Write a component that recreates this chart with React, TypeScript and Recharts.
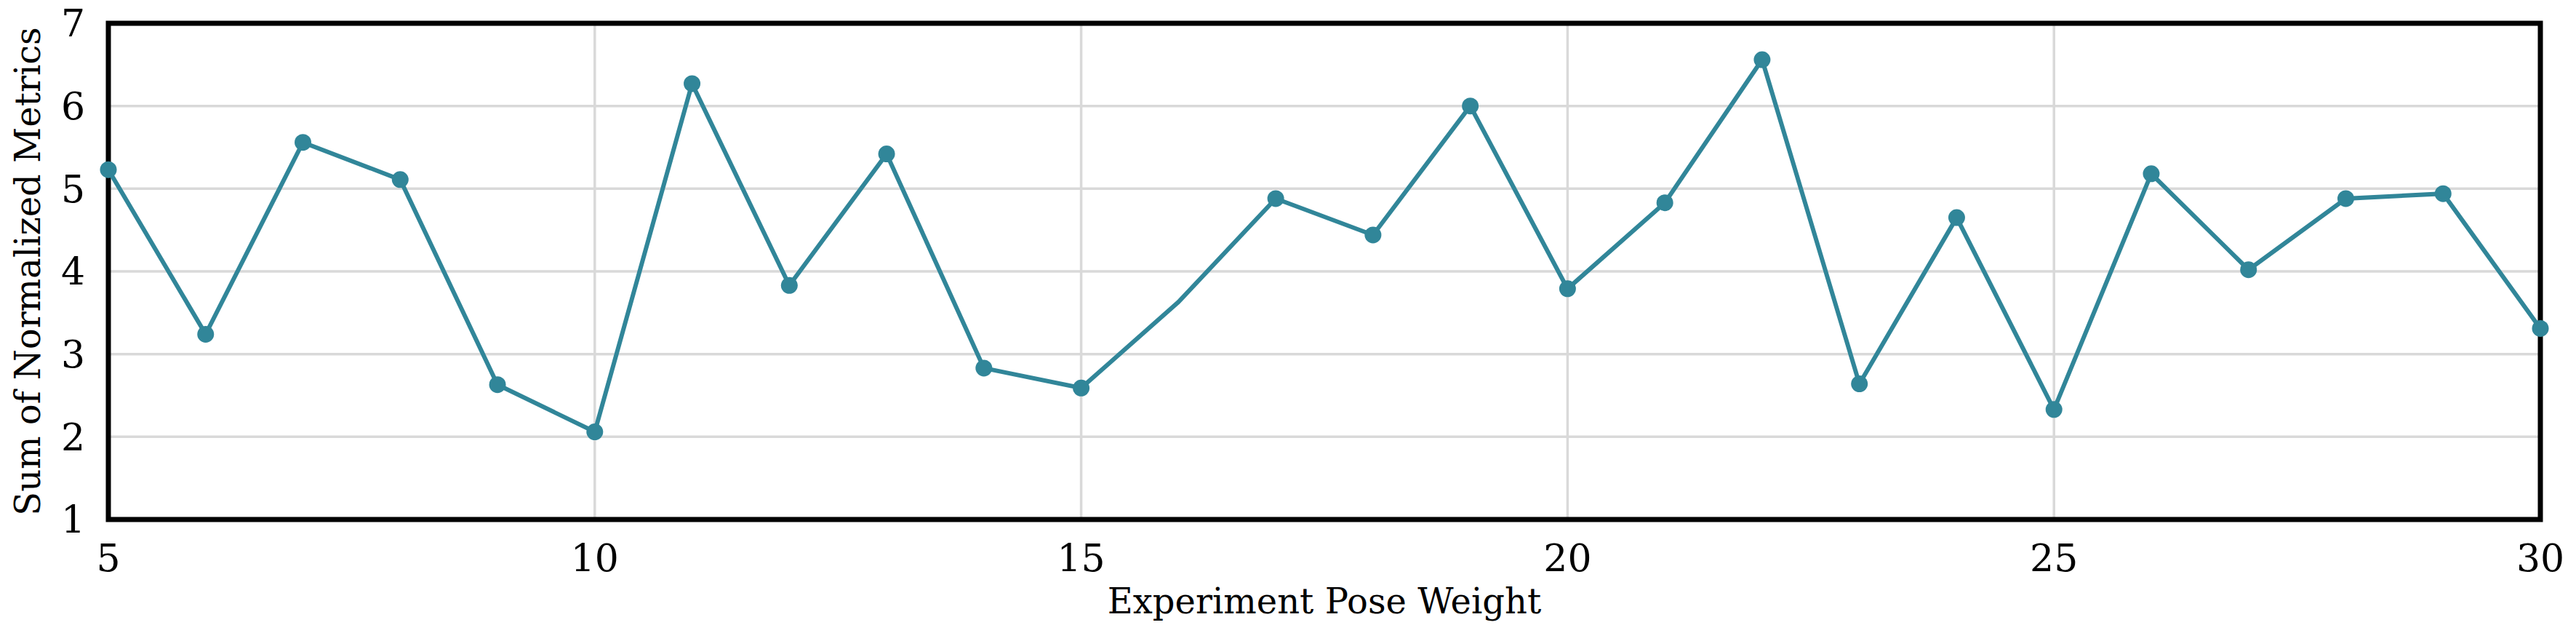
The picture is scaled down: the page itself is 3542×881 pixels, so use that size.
import { LineChart, Line, XAxis, YAxis, CartesianGrid, ReferenceArea } from "recharts";

const poseWeights = [5, 6, 7, 8, 9, 10, 11, 12, 13, 14, 15, 16, 17, 18, 19, 20, 21, 22, 23, 24, 25, 26, 27, 28, 29, 30];
const metricSums = [
  5.23, 3.24, 5.56, 5.11, 2.63, 2.06, 6.27, 3.83, 5.42, 2.83, 2.59, 3.63, 4.88,
  4.44, 6.0, 3.79, 4.83, 6.56, 2.64, 4.65, 2.33, 5.18, 4.02, 4.88, 4.94, 3.31,
];
// the point at 16 has no marker in the source figure
const unmarkedWeights = [16];
const xTicks = [5, 10, 15, 20, 25, 30];
const yTicks = [1, 2, 3, 4, 5, 6, 7];

const data = poseWeights.map((w, i) => ({ weight: w, score: metricSums[i] }));

const TEAL = "#318699";
const FONT = "DejaVu Serif";

const renderDot = (props: any) => {
  const { cx, cy, payload, index } = props;
  if (unmarkedWeights.includes(payload.weight)) return <g key={`dot-${index}`} />;
  return <circle key={`dot-${index}`} cx={cx} cy={cy} r={11.5} fill={TEAL} stroke="none" />;
};

export default function App() {
  return (
    <div style={{ position: "absolute", left: 0, top: 0, background: "#fff" }}>
      <LineChart width={3542} height={881} data={data} margin={{ top: 32, right: 49, bottom: 0, left: 0 }}>
        <CartesianGrid stroke="#d9d9d9" strokeWidth={3.5} />
        <XAxis
          dataKey="weight"
          type="number"
          domain={[5, 30]}
          ticks={xTicks}
          height={167}
          axisLine={false}
          tickLine={false}
          tickMargin={28}
          tick={{ fill: "#000", fontSize: 52, fontFamily: FONT }}
          label={{
            value: "Experiment Pose Weight",
            position: "insideBottom",
            offset: 38,
            style: { fill: "#000", fontSize: 48, fontFamily: FONT },
          }}
        />
        <YAxis
          type="number"
          domain={[1, 7]}
          ticks={yTicks}
          width={149}
          axisLine={false}
          tickLine={false}
          tickMargin={26}
          tick={{ fill: "#000", fontSize: 52, fontFamily: FONT }}
          label={{
            value: "Sum of Normalized Metrics",
            angle: -90,
            position: "insideLeft",
            offset: 38,
            style: { fill: "#000", fontSize: 48, fontFamily: FONT, textAnchor: "middle" },
          }}
        />
        <ReferenceArea x1={5} x2={30} y1={1} y2={7} fill="none" fillOpacity={0} stroke="#000" strokeWidth={7} />
        <Line
          type="linear"
          dataKey="score"
          stroke={TEAL}
          strokeWidth={6}
          dot={renderDot}
          activeDot={false}
          isAnimationActive={false}
        />
      </LineChart>
    </div>
  );
}
